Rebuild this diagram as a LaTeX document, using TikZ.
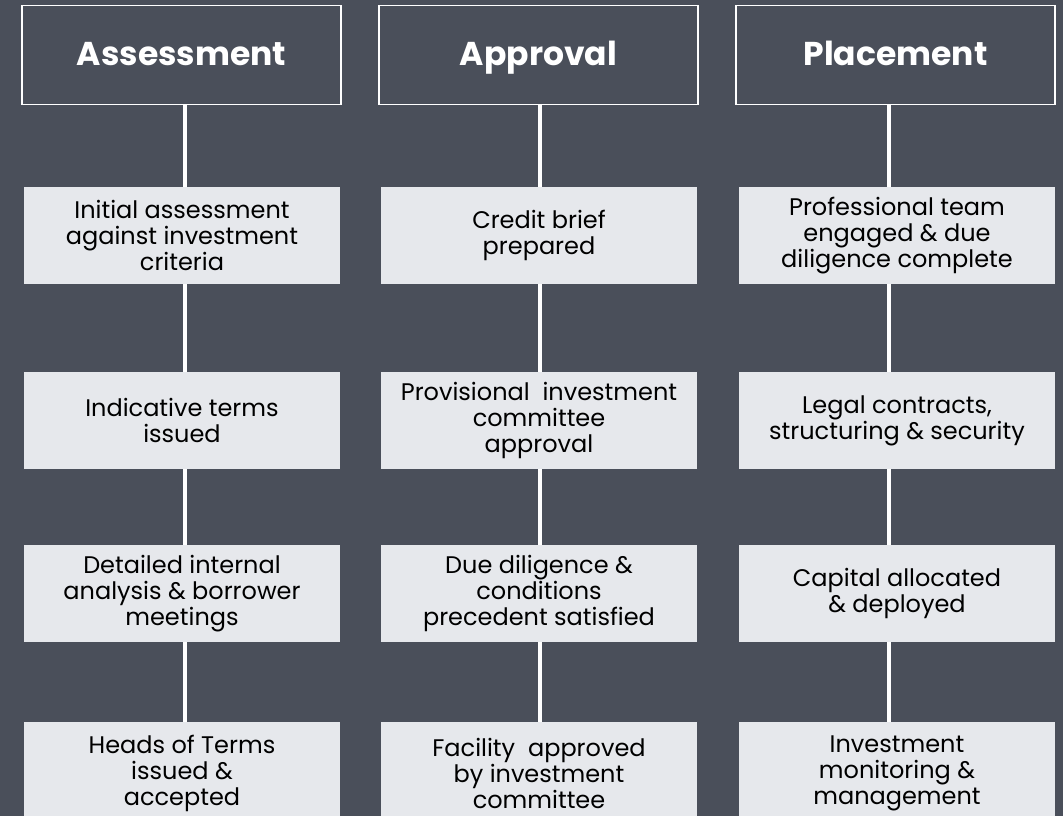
\documentclass[tikz,border=0pt]{standalone}
\usepackage{fontspec}
\setmainfont{Poppins}
\usetikzlibrary{positioning}
\definecolor{slate}{HTML}{4A4F5A}
\definecolor{pale}{HTML}{E6E8EC}

\begin{document}
\begin{tikzpicture}[x=1pt, y=-1pt,
  head/.style={draw=white, line width=1.5pt, fill=slate, text=white, minimum width=319pt, minimum height=99pt, text height=28pt, text depth=6pt, font=\fontsize{33}{40}\selectfont\bfseries},
  stage/.style={fill=pale, text=black, minimum width=316pt, minimum height=97pt, align=center, font=\fontsize{24}{26}\selectfont},
  last/.style={stage, minimum height=102pt},
  link/.style={white, line width=4pt}]
\useasboundingbox (0,0) rectangle (1063,816);
\clip (0,0) rectangle (1063,816);
\fill[slate] (0,0) rectangle (1063,816);
% headers
\node[head] (hA) at (181.5,55) {Assessment};
\node[head] (hB) at (538.5,55) {Approval};
\node[head] (hC) at (895.5,55) {Placement};
% assessment column
\node[stage] (a1) at (182,235.5) {Initial assessment\\against investment\\criteria};
\node[stage] (a2) at (182,420.5) {Indicative terms\\issued};
\node[stage] (a3) at (182,593.5) {Detailed internal\\analysis \& borrower\\meetings};
\node[last] (a4) at (182,773) {Heads of Terms\\issued \&\\accepted};
% approval column
\node[stage] (b1) at (539,235.5) {Credit brief\\prepared};
\node[stage] (b2) at (539,420.5) {Provisional~ investment\\committee\\approval};
\node[stage] (b3) at (539,593.5) {Due diligence \&\\conditions\\precedent satisfied};
\node[last] (b4) at (539,773) {Facility~ approved\\by investment\\committee};
% placement column
\node[stage] (c1) at (897,235.5) {Professional team\\engaged \& due\\diligence complete};
\node[stage] (c2) at (897,420.5) {Legal contracts,\\structuring \& security};
\node[stage] (c3) at (897,593.5) {Capital allocated\\\& deployed};
\node[last] (c4) at (897,773) {Investment\\monitoring \&\\management};
% connectors, edit the shift for each column
\foreach \col/\hd/\dx in {a/hA/3, b/hB/1, c/hC/-8}
{
\draw[link] ([xshift=\dx pt]\col1.north |- \hd.south) -- ([xshift=\dx pt]\col1.north);
\foreach \i/\j in {1/2, 2/3, 3/4}
\draw[link] ([xshift=\dx pt]\col\i.south) -- ([xshift=\dx pt]\col\j.north);
}
\end{tikzpicture}
\end{document}
